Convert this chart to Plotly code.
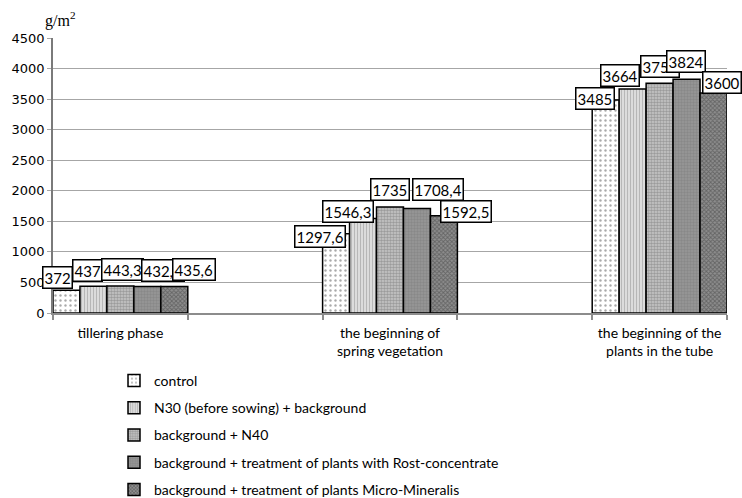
import plotly.graph_objects as go

# Biomass by growth phase, g/m2
phases = [
    "tillering phase",
    "the beginning of<br>spring vegetation",
    "the beginning of the<br>plants in the tube",
]
series_names = [
    "control",
    "N30 (before sowing) + background",
    "background + N40",
    "background + treatment of plants with Rost-concentrate",
    "background + treatment of plants Micro-Mineralis",
]
control = [372, 1297.6, 3485]
n30_background = [437, 1546.3, 3664]
background_n40 = [443.3, 1735, 3758]
background_rost = [432.4, 1708.4, 3824]
background_micro = [435.6, 1592.5, 3600]
series_values = [control, n30_background, background_n40, background_rost, background_micro]
y_ticks = [0, 500, 1000, 1500, 2000, 2500, 3000, 3500, 4000, 4500]

# Fill patterns per series (grey-scale textures)
patterns = [
    dict(shape=".", size=5, solidity=0.18, fgcolor="#555555", bgcolor="#ffffff", fillmode="overlay"),
    dict(shape="|", size=3, solidity=0.45, fgcolor="#8a8a8a", bgcolor="#e4e4e4", fillmode="overlay"),
    dict(shape=".", size=3, solidity=0.55, fgcolor="#6e6e6e", bgcolor="#c8c8c8", fillmode="overlay"),
    dict(shape=".", size=3, solidity=0.5, fgcolor="#7a7a7a", bgcolor="#979797", fillmode="overlay"),
    dict(shape="x", size=3, solidity=0.5, fgcolor="#3a3a3a", bgcolor="#8e8e8e", fillmode="overlay"),
]

# Pixel nudges for the value boxes (horizontal shift, drop below bar top)
label_dx = [[-9, -16, -10.5], [-6, -15, -13], [2, 0, 0], [15.5, 21.5, -1], [20, 22, 8.5]]
label_drop = [[-1, 14.6, 10], [-4.6, 4.2, -2.4], [-5, -6.3, -5], [-5, -8, -6], [-5.4, 7.6, 1]]

LABEL_FONT = "Lato, Open Sans, sans-serif"

fig = go.Figure()
x_pos = list(range(len(phases)))
for i, (name, vals) in enumerate(zip(series_names, series_values)):
    fig.add_trace(go.Bar(
        name=name,
        x=x_pos,
        y=vals,
        legendgroup=f"g{i}",
        marker=dict(color="#ffffff", pattern=patterns[i], line=dict(color="#000000", width=1.5)),
    ))

n = len(series_names)
bar_w = 0.5 / n
annotations = []
for i, vals in enumerate(series_values):
    for j, v in enumerate(vals):
        annotations.append(dict(
            x=j + (i - (n - 1) / 2) * bar_w,
            y=v,
            xref="x", yref="y",
            text=f"{v:g}".replace(".", ","),
            showarrow=False,
            xanchor="center", yanchor="bottom",
            xshift=label_dx[i][j],
            yshift=-label_drop[i][j],
            font=dict(family=LABEL_FONT, size=15, color="#000000"),
            bgcolor="#ffffff",
            bordercolor="#000000",
            borderwidth=1.5,
            borderpad=1,
        ))

annotations.append(dict(
    x=-0.0148, y=1.066, xref="paper", yref="paper",
    text="g/m<sup>2</sup>", showarrow=False,
    xanchor="left", yanchor="middle",
    font=dict(family="Liberation Serif, Times New Roman, serif", size=16, color="#000000"),
))

edge_ticks = [-0.25, 0.25, 0.75, 1.25, 1.75, 2.25]

fig.update_layout(
    template="none",
    width=742, height=498,
    margin=dict(l=53, r=15, t=38, b=185, autoexpand=False),
    paper_bgcolor="#ffffff",
    plot_bgcolor="#ffffff",
    barmode="group",
    bargap=0.5,
    bargroupgap=0,
    annotations=annotations,
    showlegend=True,
    legend=dict(
        xref="paper", yref="container",
        x=(114 - 53) / 674, y=1 - 365 / 498, xanchor="left", yanchor="top",
        traceorder="grouped",
        tracegroupgap=6,
        font=dict(family=LABEL_FONT, size=14, color="#000000"),
        bgcolor="rgba(0,0,0,0)",
        borderwidth=0,
        itemclick=False,
    ),
    xaxis=dict(
        type="linear",
        automargin=False,
        range=[-0.25, 2.25],
        tickmode="array",
        tickvals=x_pos,
        ticktext=phases,
        ticks="",
        ticklabelstandoff=6,
        showgrid=False,
        zeroline=False,
        showline=True,
        linecolor="#8c8c8c",
        linewidth=1.5,
        tickfont=dict(family=LABEL_FONT, size=14, color="#000000"),
        minor=dict(tickmode="array", tickvals=edge_ticks, ticks="outside",
                   ticklen=5, tickcolor="#8c8c8c", tickwidth=1.5, showgrid=False),
    ),
    yaxis=dict(
        automargin=False,
        range=[0, 4500],
        tickmode="array",
        tickvals=y_ticks,
        ticktext=[str(t) for t in y_ticks],
        showgrid=True,
        gridcolor="#a6a6a6",
        gridwidth=1,
        zeroline=False,
        showline=True,
        linecolor="#7a7a7a",
        linewidth=1.5,
        ticks="outside",
        ticklen=4,
        tickcolor="#a6a6a6",
        tickfont=dict(family="DejaVu Sans, Verdana, sans-serif", size=13, color="#000000"),
    ),
)

fig.write_html("out.html")
